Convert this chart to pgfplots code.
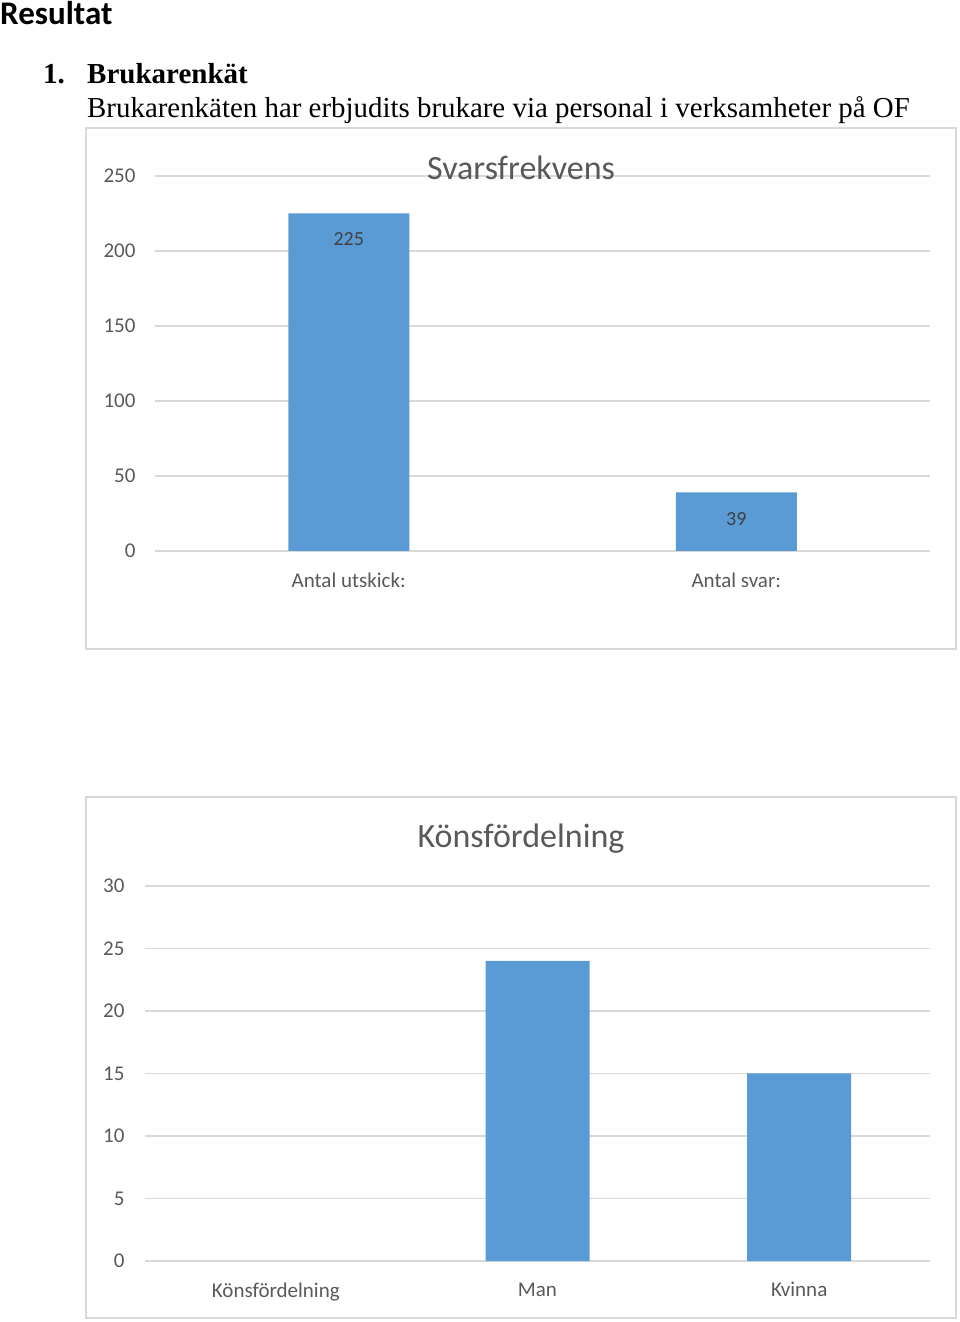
\documentclass[border=0pt]{standalone}
\usepackage{fontspec}
\setmainfont{Carlito}
\newfontfamily\timesfont{Liberation Serif}
\usepackage{pgfplots}
\pgfplotsset{compat=1.18}
\definecolor{barblue}{HTML}{5B9BD5}
\definecolor{gridgray}{HTML}{D9D9D9}
\definecolor{textgray}{HTML}{595959}
\definecolor{labelgray}{HTML}{404040}
\begin{document}
\begin{tikzpicture}[x=1pt,y=1pt]
\path[use as bounding box] (0,0) rectangle (960,1322);
% header text
\node[anchor=base west,inner sep=0pt,font=\fontsize{33pt}{36pt}\selectfont\bfseries] at (0,1297) {Resultat};
\node[anchor=base west,inner sep=0pt,font=\fontsize{29pt}{32pt}\selectfont\timesfont\bfseries] at (43,1238) {1.};
\node[anchor=base west,inner sep=0pt,font=\fontsize{29pt}{32pt}\selectfont\timesfont\bfseries] at (87,1238) {Brukarenkät};
\node[anchor=base west,inner sep=0pt,font=\fontsize{28.9pt}{32pt}\selectfont\timesfont] at (87,1204) {Brukarenkäten har erbjudits brukare via personal i verksamheter på OF};
% frames
\draw[gridgray,line width=1.5pt] (86,673) rectangle (956,1194);
\draw[gridgray,line width=1.5pt] (86,4) rectangle (956,525);

\pgfplotsset{
  mystyle/.style={
    scale only axis,
    ybar,
    axis line style={draw=none},
    ymajorgrids,
    grid style={color=gridgray,line width=1.2pt},
    major tick length=0pt,
    tick label style={font=\fontsize{21pt}{24pt}\selectfont,text=textgray},
    /pgf/number format/assume math mode=true,
    yticklabel style={xshift=-16pt},
    xticklabel style={yshift=-18pt},
    clip=false,
  }
}
% chart 1
\begin{axis}[mystyle,
  at={(155pt,771pt)},anchor=south west,
  width=775pt,height=375pt,
  xmin=-0.5,xmax=1.5,ymin=0,ymax=250,
  ytick={0,50,100,150,200,250},
  xtick={0,1},xticklabels={Antal utskick:,Antal svar:},
  bar width=121pt,
  nodes near coords,
  nodes near coords style={anchor=north,yshift=-16pt,font=\fontsize{20pt}{24pt}\selectfont,text=labelgray},
]
\addplot[fill=barblue,draw=none] coordinates {(0,225) (1,39)};
\end{axis}
\node[font=\fontsize{34pt}{36pt}\selectfont,text=textgray,anchor=base] at (521,1142) {Svarsfrekvens};
% chart 2
\begin{axis}[mystyle,
  at={(145pt,61pt)},anchor=south west,
  width=785pt,height=375pt,
  xmin=-0.5,xmax=2.5,ymin=0,ymax=30,
  ytick={0,5,10,15,20,25,30},
  xtick={0,1,2},xticklabels={Könsfördelning,Man,Kvinna},
  bar width=104pt,
  yticklabel style={xshift=-1pt},
]
\addplot[fill=barblue,draw=none] coordinates {(1,24) (2,15)};
\end{axis}
\node[font=\fontsize{34pt}{36pt}\selectfont,text=textgray,anchor=base] at (521,474) {Könsfördelning};
\end{tikzpicture}
\end{document}
